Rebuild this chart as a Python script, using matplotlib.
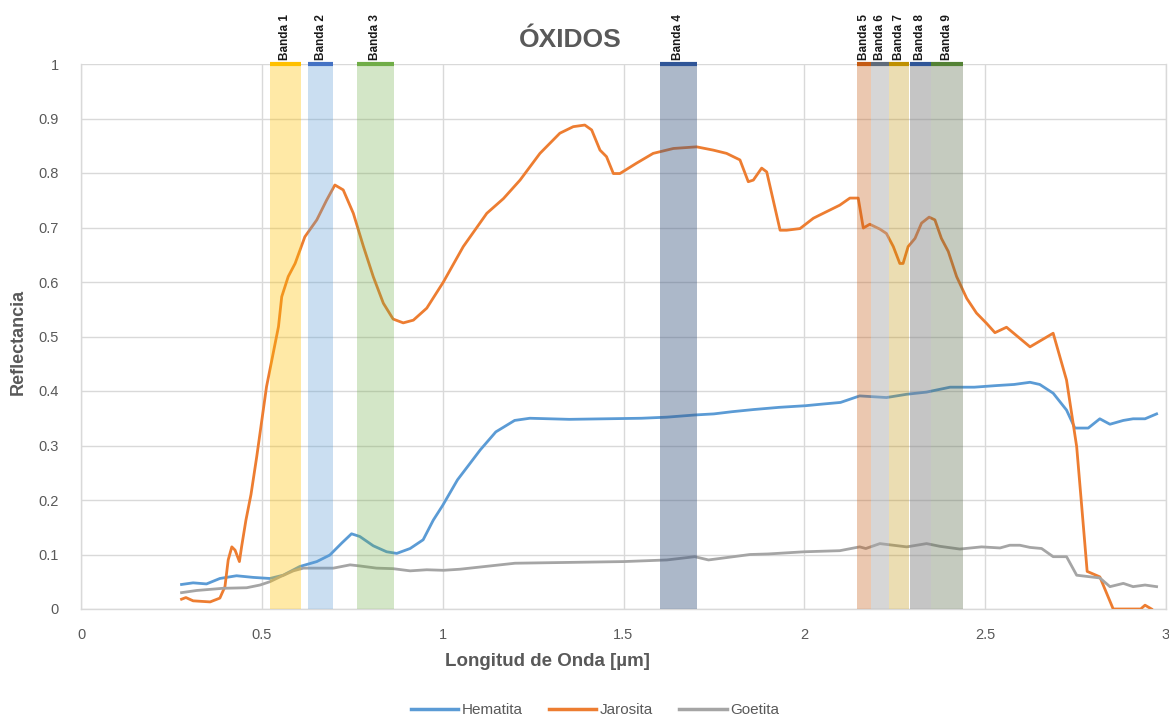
import matplotlib
matplotlib.use("Agg")
import matplotlib.pyplot as plt
from matplotlib import font_manager

# Spectral reflectance of iron oxide minerals with ASTER band windows
hematita_wl = [0.278, 0.31, 0.347, 0.384, 0.43, 0.476, 0.522, 0.559, 0.605, 0.652, 0.688,
               0.721, 0.748, 0.771, 0.808, 0.845, 0.873, 0.91, 0.946, 0.974, 1.0, 1.041,
               1.072, 1.104, 1.147, 1.199, 1.241, 1.35, 1.45, 1.55, 1.62, 1.697, 1.75, 1.8,
               1.86, 1.93, 2.003, 2.05, 2.1, 2.153, 2.227, 2.283, 2.338, 2.403, 2.47, 2.532,
               2.58, 2.624, 2.651, 2.688, 2.725, 2.748, 2.785, 2.817, 2.845, 2.882, 2.909,
               2.942, 2.974]
hematita_ref = [0.045, 0.048, 0.046, 0.056, 0.061, 0.058, 0.056, 0.062, 0.078, 0.087, 0.099,
                0.121, 0.138, 0.133, 0.116, 0.105, 0.102, 0.111, 0.127, 0.163, 0.19, 0.237,
                0.264, 0.292, 0.325, 0.346, 0.35, 0.348, 0.349, 0.35, 0.352, 0.356, 0.358,
                0.362, 0.366, 0.37, 0.373, 0.376, 0.379, 0.391, 0.388, 0.394, 0.398, 0.407,
                0.407, 0.41, 0.412, 0.416, 0.412, 0.396, 0.365, 0.332, 0.332, 0.349, 0.339,
                0.346, 0.349, 0.349, 0.358]

jarosita_wl = [0.278, 0.29, 0.31, 0.357, 0.384, 0.398, 0.407, 0.417, 0.426, 0.438, 0.444,
               0.456, 0.47, 0.486, 0.513, 0.546, 0.555, 0.573, 0.592, 0.619, 0.652, 0.679,
               0.702, 0.725, 0.753, 0.781, 0.808, 0.836, 0.863, 0.891, 0.919, 0.956, 1.002,
               1.057, 1.122, 1.168, 1.214, 1.269, 1.324, 1.361, 1.393, 1.412, 1.435, 1.453,
               1.472, 1.49, 1.536, 1.582, 1.638, 1.702, 1.748, 1.785, 1.822, 1.845, 1.859,
               1.882, 1.896, 1.933, 1.951, 1.988, 2.025, 2.043, 2.098, 2.126, 2.149, 2.163,
               2.181, 2.209, 2.227, 2.246, 2.264, 2.273, 2.287, 2.306, 2.324, 2.345, 2.361,
               2.379, 2.398, 2.421, 2.449, 2.476, 2.504, 2.527, 2.559, 2.624, 2.688, 2.725,
               2.753, 2.767, 2.782, 2.817, 2.854, 2.93, 2.942, 2.96]
jarosita_ref = [0.018, 0.021, 0.015, 0.013, 0.02, 0.041, 0.09, 0.114, 0.108, 0.087, 0.114,
                0.163, 0.21, 0.28, 0.408, 0.518, 0.573, 0.61, 0.634, 0.683, 0.714, 0.75,
                0.778, 0.769, 0.726, 0.665, 0.61, 0.561, 0.532, 0.525, 0.53, 0.552, 0.6,
                0.665, 0.726, 0.753, 0.787, 0.836, 0.873, 0.885, 0.888, 0.879, 0.842, 0.83,
                0.799, 0.799, 0.818, 0.836, 0.845, 0.848, 0.842, 0.836, 0.824, 0.784, 0.787,
                0.809, 0.802, 0.695, 0.695, 0.698, 0.717, 0.723, 0.741, 0.754, 0.754, 0.699,
                0.706, 0.697, 0.689, 0.665, 0.634, 0.634, 0.665, 0.68, 0.708, 0.719, 0.714,
                0.68, 0.656, 0.61, 0.57, 0.543, 0.524, 0.507, 0.517, 0.481, 0.506, 0.42,
                0.298, 0.188, 0.069, 0.059, 0.0, 0.0, 0.007, 0.0]

goetita_wl = [0.278, 0.32, 0.393, 0.458, 0.495, 0.522, 0.55, 0.587, 0.615, 0.698, 0.744,
              0.771, 0.817, 0.863, 0.91, 0.956, 1.002, 1.048, 1.2, 1.5, 1.62, 1.697, 1.735,
              1.85, 1.9, 2.0, 2.098, 2.153, 2.17, 2.209, 2.283, 2.338, 2.375, 2.43, 2.49,
              2.541, 2.568, 2.596, 2.624, 2.656, 2.688, 2.725, 2.753, 2.817, 2.845, 2.882,
              2.909, 2.942, 2.974]
goetita_ref = [0.03, 0.034, 0.038, 0.039, 0.044, 0.05, 0.059, 0.07, 0.075, 0.075, 0.081,
               0.079, 0.075, 0.074, 0.07, 0.072, 0.071, 0.073, 0.084, 0.087, 0.09, 0.096,
               0.09, 0.1, 0.101, 0.105, 0.107, 0.114, 0.111, 0.12, 0.114, 0.12, 0.115, 0.11,
               0.114, 0.112, 0.117, 0.117, 0.113, 0.111, 0.096, 0.096, 0.062, 0.057, 0.041,
               0.047, 0.041, 0.044, 0.041]

band_names = ["Banda 1", "Banda 2", "Banda 3", "Banda 4", "Banda 5",
              "Banda 6", "Banda 7", "Banda 8", "Banda 9"]
band_lo = [0.522, 0.628, 0.762, 1.60, 2.145, 2.185, 2.235, 2.292, 2.35]
band_hi = [0.608, 0.697, 0.865, 1.703, 2.185, 2.235, 2.290, 2.35, 2.44]

x_ticks = [0, 0.5, 1, 1.5, 2, 2.5, 3]
x_tick_labels = ["0", "0.5", "1", "1.5", "2", "2.5", "3"]
y_ticks = [0, 0.1, 0.2, 0.3, 0.4, 0.5, 0.6, 0.7, 0.8, 0.9, 1]
y_tick_labels = ["0", "0.1", "0.2", "0.3", "0.4", "0.5", "0.6", "0.7", "0.8", "0.9", "1"]

band_fill = ["#FFC000", "#5B9BD5", "#70AD47", "#3B5680", "#C55A11",
             "#A5A5A5", "#BF9000", "#7F7F7F", "#5A6B4A"]
band_alpha = [0.35, 0.32, 0.30, 0.42, 0.33, 0.45, 0.30, 0.45, 0.35]
band_cap = ["#FFC000", "#4472C4", "#70AD47", "#2F5597", "#C55A11",
            "#5F6B7A", "#BF9000", "#2F5597", "#548235"]


def pick_family(names):
    for n in names:
        try:
            font_manager.findfont(font_manager.FontProperties(family=n),
                                  fallback_to_default=False)
            return n
        except Exception:
            continue
    return "DejaVu Sans"


base_font = pick_family(["Liberation Sans", "Arial"])
narrow_font = pick_family(["Liberation Sans Narrow", "Liberation Sans"])
plt.rcParams["font.family"] = base_font

TXT = "#595959"
GRID = "#D9D9D9"

fig = plt.figure(figsize=(11.69, 7.19), dpi=100)
ax = fig.add_axes([81 / 1169, 1 - 609 / 719, (1166 - 81) / 1169, (609 - 64) / 719])

ax.plot(hematita_wl, hematita_ref, color="#5B9BD5", lw=2.0, zorder=3, label="Hematita")
ax.plot(jarosita_wl, jarosita_ref, color="#ED7D31", lw=2.0, zorder=3, label="Jarosita")
ax.plot(goetita_wl, goetita_ref, color="#A5A5A5", lw=2.0, zorder=3, label="Goetita")

for name, lo, hi, fc, a, cap in zip(band_names, band_lo, band_hi, band_fill,
                                    band_alpha, band_cap):
    ax.axvspan(lo, hi, ymin=0, ymax=1, color=fc, alpha=a, lw=0, zorder=4)
    ax.plot([lo, hi], [1, 1], color=cap, lw=3, solid_capstyle="butt",
            clip_on=False, zorder=6)
    ax.annotate(name, xy=((lo + hi) / 2, 1), xycoords="data",
                xytext=(0, 3), textcoords="offset points",
                rotation=90, ha="center", va="bottom", fontsize=8.5,
                fontweight="bold", color="#1a1a1a", annotation_clip=False)

ax.set_xlim(0, 3)
ax.set_ylim(0, 1)
ax.set_xticks(x_ticks)
ax.set_xticklabels(x_tick_labels)
ax.set_yticks(y_ticks)
ax.set_yticklabels(y_tick_labels)
ax.tick_params(axis="both", length=0, labelsize=10.5, colors=TXT)
ax.tick_params(axis="x", pad=14)
ax.tick_params(axis="y", pad=16)
ax.grid(True, color=GRID, lw=1, zorder=0)
ax.set_axisbelow(True)
for side in ["top", "right"]:
    ax.spines[side].set_visible(False)
for side in ["left", "bottom"]:
    ax.spines[side].set_color(GRID)
    ax.spines[side].set_linewidth(1)
ax.plot([3, 3], [0, 1], color=GRID, lw=1, zorder=0, clip_on=False)

fig.text(570 / 1169, 1 - 40 / 719, "ÓXIDOS", ha="center", va="center",
         fontsize=19, fontweight="bold", color=TXT)
fig.text(547 / 1169, 1 - 662 / 719, "Longitud de Onda [µm]", ha="center",
         va="center", fontsize=13.5, fontweight="bold", color=TXT)
fig.text(18 / 1169, 1 - 342 / 719, "Reflectancia", ha="center", va="center",
         rotation=90, fontsize=13, fontweight="bold", color=TXT, family=narrow_font)

leg = fig.legend(loc="center", bbox_to_anchor=(595 / 1169, 1 - 710 / 719), ncol=3,
                 frameon=False, fontsize=11, handlelength=3.1, handletextpad=0.25,
                 columnspacing=1.7, labelcolor=TXT)
for line in leg.get_lines():
    line.set_linewidth(2.5)

fig.savefig("out.png", dpi=100, facecolor="white")
